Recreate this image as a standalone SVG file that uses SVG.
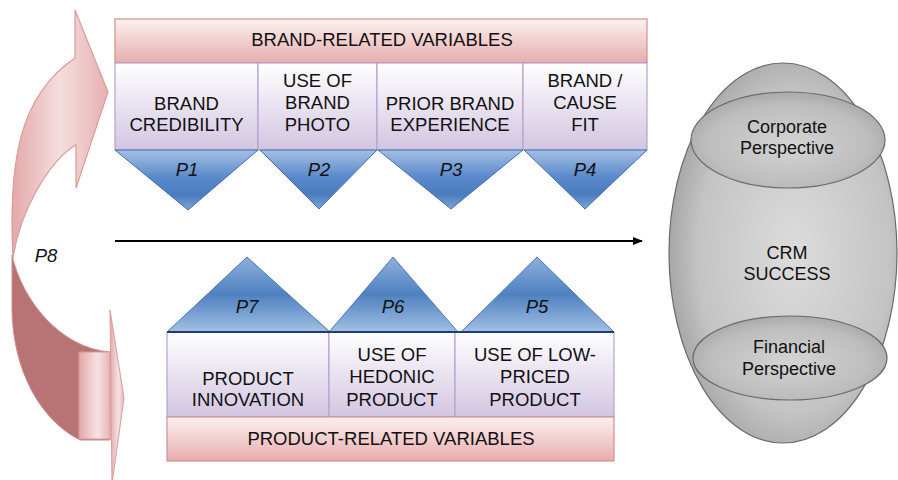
<svg xmlns="http://www.w3.org/2000/svg" width="898" height="480" viewBox="0 0 898 480">
  <defs>
    <linearGradient id="gHeader" x1="0" y1="0" x2="0" y2="1">
      <stop offset="0" stop-color="#fcf0f0"/>
      <stop offset="1" stop-color="#e6adad"/>
    </linearGradient>
    <linearGradient id="gCell" x1="0" y1="0" x2="0" y2="1">
      <stop offset="0" stop-color="#ffffff"/>
      <stop offset="1" stop-color="#d3c5e1"/>
    </linearGradient>
    <linearGradient id="gDown" x1="0" y1="0" x2="0" y2="1">
      <stop offset="0" stop-color="#a4c0e4"/>
      <stop offset="0.45" stop-color="#5b8acb"/>
      <stop offset="0.75" stop-color="#4a7cbf"/>
      <stop offset="1" stop-color="#7ea6d8"/>
    </linearGradient>
    <linearGradient id="gUp" x1="0" y1="0" x2="0" y2="1">
      <stop offset="0" stop-color="#8eb0dc"/>
      <stop offset="0.5" stop-color="#4f81c0"/>
      <stop offset="1" stop-color="#a1bfe4"/>
    </linearGradient>
    <linearGradient id="gBand" x1="0" y1="0" x2="1" y2="0">
      <stop offset="0" stop-color="#e4a8a8"/>
      <stop offset="0.5" stop-color="#f5dede"/>
      <stop offset="1" stop-color="#e6b0b0"/>
    </linearGradient>
    <linearGradient id="gTab" x1="0" y1="0" x2="1" y2="0">
      <stop offset="0" stop-color="#e3a9a9"/>
      <stop offset="0.6" stop-color="#f6e2e2"/>
      <stop offset="1" stop-color="#e8b6b6"/>
    </linearGradient>
    <radialGradient id="gBig" cx="0.55" cy="0.5" r="0.6">
      <stop offset="0" stop-color="#dcdcdc"/>
      <stop offset="0.7" stop-color="#c4c4c4"/>
      <stop offset="1" stop-color="#9c9c9c"/>
    </radialGradient>
    <radialGradient id="gCap" cx="0.5" cy="0.55" r="0.6">
      <stop offset="0" stop-color="#d4d4d4"/>
      <stop offset="0.7" stop-color="#bdbdbd"/>
      <stop offset="1" stop-color="#a2a2a2"/>
    </radialGradient>
    <marker id="arrowHead" markerWidth="10" markerHeight="8" refX="9" refY="4" orient="auto" markerUnits="userSpaceOnUse">
      <path d="M0,0 L10,4 L0,8 Z" fill="#000"/>
    </marker>
  </defs>
  <style>
    text { font-family: "Liberation Sans", Arial, sans-serif; font-size: 18.5px; fill: #111; text-anchor: middle; }
    .p { font-style: italic; }
    .header { fill: url(#gHeader); stroke: #d38f8f; stroke-width: 1.2; }
    .cell { fill: url(#gCell); stroke: #b3a3cf; stroke-width: 1.2; }
    .down { fill: url(#gDown); stroke: #3f6fae; stroke-width: 1; }
    .up { fill: url(#gUp); stroke: #4a78b3; stroke-width: 1; }
    .base { stroke: #1f3f6a; stroke-width: 2; }
    .gray { stroke: #6a6a6a; stroke-width: 1.2; }
    .ell { font-size: 18px; }
  </style>

  <!-- P8 feedback arrow on the left -->
  <g id="p8-arrow">
    <!-- rear (dark) band -->
    <path d="M12,255 C22,300 60,348 110,352 L110,440 L80,440 C40,420 13,370 12,310 Z" fill="#b87474" stroke="#c98e8e" stroke-width="1"/>
    <!-- front band with upper arrowhead -->
    <path d="M75,10 L108,92 L76,188 L76,145 C50,160 20,210 13,258 C8,160 20,95 75,58 Z" fill="url(#gBand)" stroke="#d99c9c" stroke-width="1.2"/>
    <!-- lower arrowhead -->
    <rect x="79" y="352" width="31" height="87" fill="url(#gTab)" stroke="#d49a9a" stroke-width="1"/>
    <path d="M110,310 L124,398 L112,484 Z" fill="url(#gTab)" stroke="#d99c9c" stroke-width="1"/>
    <text class="p" x="46" y="262">P8</text>
  </g>

  <!-- brand-related variables -->
  <g id="brand-header">
    <rect class="header" x="115" y="19" width="532" height="44"/>
    <text x="382" y="46">BRAND-RELATED VARIABLES</text>
  </g>
  <g id="brand-credibility">
    <rect class="cell" x="115" y="63" width="143" height="87"/>
    <text x="186.5" y="110">BRAND</text>
    <text x="186.5" y="131">CREDIBILITY</text>
  </g>
  <g id="brand-photo">
    <rect class="cell" x="258" y="63" width="119" height="87"/>
    <text x="317.5" y="87">USE OF</text>
    <text x="317.5" y="109">BRAND</text>
    <text x="317.5" y="131">PHOTO</text>
  </g>
  <g id="brand-experience">
    <rect class="cell" x="377" y="63" width="146" height="87"/>
    <text x="450" y="110">PRIOR BRAND</text>
    <text x="450" y="131">EXPERIENCE</text>
  </g>
  <g id="brand-fit">
    <rect class="cell" x="523" y="63" width="124" height="87"/>
    <text x="585" y="87">BRAND /</text>
    <text x="585" y="109">CAUSE</text>
    <text x="585" y="131">FIT</text>
  </g>
  <g id="p1">
    <path class="down" d="M115,150 L258,150 L188,210 Z"/>
    <text class="p" x="187" y="176">P1</text>
  </g>
  <g id="p2">
    <path class="down" d="M260,150 L377,150 L319,209 Z"/>
    <text class="p" x="319" y="176">P2</text>
  </g>
  <g id="p3">
    <path class="down" d="M378,150 L523,150 L451,209 Z"/>
    <text class="p" x="451" y="176">P3</text>
  </g>
  <g id="p4">
    <path class="down" d="M524,150 L647,150 L585,209 Z"/>
    <text class="p" x="585" y="176">P4</text>
  </g>

  <!-- product-related variables -->
  <g id="p7">
    <path class="up" d="M167,332 L330,332 L247,257 Z"/>
    <text class="p" x="247" y="313">P7</text>
  </g>
  <g id="p6">
    <path class="up" d="M329,332 L458,332 L393,257 Z"/>
    <text class="p" x="393" y="313">P6</text>
  </g>
  <g id="p5">
    <path class="up" d="M461,332 L614,332 L537,257 Z"/>
    <text class="p" x="537" y="313">P5</text>
  </g>
  <g id="product-innovation">
    <rect class="cell" x="167" y="332" width="162" height="85"/>
    <text x="248" y="385">PRODUCT</text>
    <text x="248" y="406">INNOVATION</text>
  </g>
  <g id="hedonic-product">
    <rect class="cell" x="329" y="332" width="126" height="85"/>
    <text x="392" y="361">USE OF</text>
    <text x="392" y="383">HEDONIC</text>
    <text x="392" y="406">PRODUCT</text>
  </g>
  <g id="low-priced-product">
    <rect class="cell" x="455" y="332" width="159" height="85"/>
    <text x="535" y="361">USE OF LOW-</text>
    <text x="535" y="383">PRICED</text>
    <text x="535" y="406">PRODUCT</text>
  </g>
  <line class="base" x1="167" y1="332" x2="614" y2="332"/>
  <g id="product-header">
    <rect class="header" x="167" y="417" width="447" height="44"/>
    <text x="391" y="445">PRODUCT-RELATED VARIABLES</text>
  </g>

  <!-- CRM success -->
  <g id="crm-success">
    <ellipse class="gray" cx="783" cy="253" rx="114" ry="190" fill="url(#gBig)"/>
    <text class="ell" x="787" y="259">CRM</text>
    <text class="ell" x="787" y="280">SUCCESS</text>
  </g>
  <g id="corporate-perspective">
    <ellipse class="gray" cx="788" cy="140" rx="97" ry="48" fill="url(#gCap)"/>
    <text class="ell" x="787" y="133">Corporate</text>
    <text class="ell" x="787" y="154">Perspective</text>
  </g>
  <g id="financial-perspective">
    <ellipse class="gray" cx="790" cy="358" rx="97" ry="42" fill="url(#gCap)"/>
    <text class="ell" x="789" y="353">Financial</text>
    <text class="ell" x="789" y="375">Perspective</text>
  </g>

  <!-- connectors -->
  <g id="connectors">
    <line x1="115" y1="241" x2="642" y2="241" stroke="#000" stroke-width="2" marker-end="url(#arrowHead)"/>
  </g>
</svg>
